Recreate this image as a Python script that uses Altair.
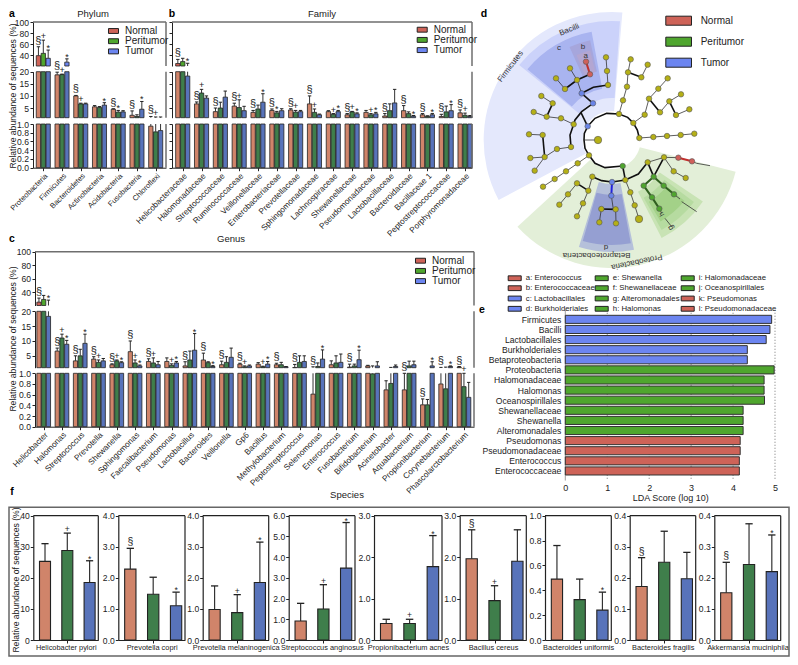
import altair as alt
import pandas as pd

FONT = "Liberation Sans"
GROUPS = ["Normal", "Peritumor", "Tumor"]
BRIGHT = ["#CE6358", "#4FA62E", "#6C85F0"]
DULL = ["#D0846A", "#3F7E4B", "#5873BA"]

# ---------- panel a ----------
A_CATS = ["Proteobacteria", "Firmicutes", "Bacteroidetes", "Actinobacteria", "Acidobacteria", "Fusobacteria", "Chloroflexi"]
A_N = [38.8, 18.7, 10.0, 5.5, 4.5, 2.0, 0.95]
A_NT = [55, 19.8, 10.2, 6.0, 4.7, 3.8, 1.5]
A_P = [43, 18.8, 6.7, 5.2, 3.3, 1.5, 0.82]
A_PT = [67, 19.0, 7.0, 5.6, 4.0, 2.2, 1.3]
A_T = [34, 27, 6.7, 6.2, 3.4, 4.5, 0.85]
A_TT = [49, 33, 7.0, 7.2, 3.9, 7.7, 1.3]
A_MARKS = ["§+*", "§+*", "§+ ", "  *", "§* ", "§ *", "§+ "]

# ---------- panel b ----------
B_CATS = ["Helicobacteraceae", "Halomonadaceae", "Streptococcaceae", "Ruminococcaceae", "Veillonellaceae",
          "Enterobacteriaceae", "Prevotellaceae", "Sphingomonadaceae", "Lachnospiraceae", "Shewanellaceae",
          "Pseudomonadaceae", "Lactobacillaceae", "Bacteroidaceae", "Bacillaceae 1", "Peptostreptococcaceae",
          "Porphyromonadaceae"]
B_N = [24.5, 6.7, 3.5, 5.8, 3.2, 4.0, 4.2, 6.7, 3.5, 2.2, 3.2, 1.7, 3.9, 2.2, 1.5, 3.0]
B_NT = [32, 7.5, 5.0, 7.0, 4.0, 4.6, 4.7, 10.0, 3.9, 2.7, 4.0, 2.7, 6.0, 2.7, 2.4, 4.2]
B_P = [28, 11.2, 5.0, 5.2, 4.6, 3.0, 3.3, 3.2, 2.4, 3.4, 2.2, 3.9, 2.7, 1.5, 3.4, 2.0]
B_PT = [34, 12.7, 7.4, 8.4, 6.2, 3.6, 4.0, 4.6, 2.7, 3.6, 2.7, 6.7, 3.4, 1.8, 5.8, 2.9]
B_T = [18.2, 9.1, 9.5, 3.9, 7.4, 3.9, 3.5, 2.2, 3.5, 2.6, 2.6, 7.1, 1.6, 2.2, 3.9, 1.5]
B_TT = [25, 10, 12, 5.7, 10.9, 4.7, 4.0, 2.5, 4.0, 3.0, 3.2, 12.7, 1.9, 2.7, 6.4, 1.9]
B_MARKS = ["§ *", "§+ ", "§  ", "§+ ", "§ *", "§* ", "§+ ", "§+ ", " +*", "§+*", " +*", "§  ", "§ *", "§ *", "§ *", "§+ "]

# ---------- panel c ----------
C_CATS = ["Helicobacter", "Halomonas", "Streptococcus", "Prevotella", "Shewanella", "Sphingomonas", "Faecalibacterium",
          "Pseudomonas", "Lactobacillus", "Bacteroides", "Veillonella", "Gp6", "Bacillus", "Methylobacterium",
          "Peptostreptococcus", "Selenomonas", "Enterococcus", "Fusobacterium", "Bifidobacterium", "Acinetobacter",
          "Aquabacterium", "Propionibacterium", "Corynebacterium", "Phascolarctobacterium"]
C_N = [25, 6.6, 3.3, 3.9, 2.0, 6.4, 3.1, 3.1, 1.6, 3.6, 2.0, 2.2, 2.2, 2.0, 1.05, 0.61, 2.0, 1.2, 1.6, 0.69, 0.69, 0.41, 0.8, 1.2]
C_NT = [31, 7.6, 5.0, 4.7, 2.3, 10, 4.0, 4.3, 3.0, 5.9, 3.2, 2.5, 2.7, 2.5, 2.1, 1.3, 3.3, 2.2, 1.8, 0.86, 1.0, 0.52, 1.1, 1.4]
C_P = [29, 11, 5.0, 2.8, 3.3, 2.6, 2.6, 1.8, 3.6, 2.7, 2.8, 1.3, 1.3, 2.0, 2.8, 1.4, 2.6, 1.6, 0.99, 0.81, 1.6, 0.41, 0.71, 0.75]
C_PT = [35, 12.3, 7.2, 3.6, 3.6, 3.6, 4.3, 2.3, 6.6, 3.0, 4.7, 1.6, 1.5, 2.8, 5.0, 2.6, 5.0, 2.2, 1.6, 1.1, 3.2, 0.51, 1.2, 1.0]
C_T = [18.3, 8.9, 9.2, 3.3, 2.7, 1.6, 2.0, 2.6, 6.9, 1.4, 4.5, 1.6, 2.2, 1.3, 3.1, 3.9, 2.8, 3.7, 1.6, 1.4, 2.0, 1.6, 1.4, 0.55]
C_TT = [28, 10.2, 12.3, 4.1, 3.0, 1.9, 3.1, 3.1, 12.5, 1.7, 7.6, 1.9, 3.1, 1.4, 5.0, 7.0, 5.6, 6.9, 3.0, 1.9, 3.2, 3.0, 1.6, 0.83]
C_MARKS = ["§ *", "§+*", "§ *", "§+ ", "§+*", "§+*", "§+ ", " +*", "§ *", "§ *", "§  ", "§+ ", " +*", "§  ", "§  ",
           "§ *", "   ", "§ *", "   ", "   ", "§  ", "§ *", "§ *", "§+ "]

# ---------- panel e ----------
E_NAMES = ["Firmicutes", "Bacilli", "Lactobacillales", "Burkholderiales", "Betaproteobacteria", "Proteobacteria",
           "Halomonadaceae", "Halomonas", "Oceanospirillales", "Shewanellaceae", "Shewanella", "Alteromonadales",
           "Pseudomonas", "Pseudomonadaceae", "Enterococcus", "Enterococcaceae"]
E_SCORES = [4.92, 4.88, 4.79, 4.34, 4.34, 4.98, 4.74, 4.74, 4.75, 4.24, 4.24, 4.24, 4.17, 4.17, 4.15, 4.15]
E_CLASS = [2] * 5 + [1] * 7 + [0] * 4
E_KEYS = ["a: Enterococcus", "b: Enterococcaceae", "c: Lactobacillales", "d: Burkholderiales", "e: Shewanella",
          "f: Shewanellaceae", "g: Alteromonadales", "h: Halomonas", "i: Halomonadaceae", "j: Oceanospirillales",
          "k: Pseudomonas", "l: Pseudomonadaceae"]
E_KEY_CLASS = [0, 0, 2, 2, 1, 1, 1, 1, 1, 1, 0, 0]

# ---------- panel f ----------
F_NAMES = ["Helicobacter pylori", "Prevotella copri", "Prevotella melaninogenica", "Streptococcus anginosus",
           "Propionibacterium acnes", "Bacillus cereus", "Bacteroides uniformis", "Bacteroides fragilis",
           "Akkermansia muciniphila"]
F_TOP = [40, 4, 4, 6, 3, 3, 1, 0.4, 0.4]
F_STEP = [10, 1, 1, 1, 1, 1, 0.2, 0.1, 0.1]
F_FMT = [".0f", ".1f", ".1f", ".1f", ".1f", ".1f", ".1f", ".1f", ".1f"]
F_N = [25.3, 2.28, 0.98, 0.92, 0.40, 1.96, 0.49, 0.172, 0.152]
F_NT = [31, 2.95, 1.74, 1.77, 0.50, 2.66, 0.76, 0.265, 0.25]
F_P = [28.8, 1.47, 0.88, 1.5, 0.40, 0.95, 0.325, 0.25, 0.243]
F_PT = [34.4, 2.02, 1.46, 2.67, 0.50, 1.31, 0.49, 0.35, 0.374]
F_T = [18.5, 1.1, 1.85, 3.47, 1.77, 1.9, 0.24, 0.197, 0.22]
F_TT = [25.5, 1.54, 3.15, 5.67, 2.52, 2.66, 0.385, 0.282, 0.338]
F_MARKS = [" +*", "§ *", " +*", " +*", " +*", "§+ ", "  *", "§  ", "§ *"]
F_LEFT = [33.3, 118.3, 202.7, 288.7, 374, 459.7, 545, 629.7, 714.3]
F_RIGHT = [98.3, 185, 268.7, 355, 442, 526.3, 611.3, 695.7, 780.7]

# ---------- panel d (positions, in 3x crop pixels) ----------
TREE_CENTER = (395, 420)
# start angle, end angle (deg clockwise from up), inner r, outer r (px), colour
WEDGES = [
    (242, 364.8, 29, 128, "#E4E8FC"),
    (104.4, 227.4, 29, 128, "#E3EFD8"),
    (309, 364, 42, 119, "#CBD2FA"),
    (310, 349.5, 52, 110, "#A9B4F0"),
    (335.6, 347.8, 70, 102, "#A6A6DC"),
    (337.5, 346.5, 70, 92, "#B3A6D2"),
    (168.5, 197, 44, 112, "#B5C0DA"),
    (169.5, 196, 55, 105, "#959FD2"),
    (124, 153, 58, 110, "#C8E3B4"),
    (127, 151, 66, 103, "#B6DBA0"),
    (130, 149, 72, 95, "#A3D188"),
]
YELLOW = [(228, 235), (270, 205), (291, 240), (255, 267), (378, 172), (381, 213), (384, 255), (184, 288), (218, 310),
          (161, 336), (200, 350), (243, 355), (281, 373), (147, 403), (188, 405), (231, 447), (273, 441), (151, 474),
          (194, 471), (164, 512), (327, 466), (293, 490), (258, 514), (224, 537), (189, 560), (417, 342), (429, 301),
          (441, 260), (452, 178), (503, 194), (444, 217), (484, 232), (563, 235), (535, 266), (507, 296), (603, 283),
          (568, 304), (494, 344), (540, 337), (588, 345), (628, 328), (460, 369), (478, 414), (520, 411), (561, 408),
          (602, 405), (643, 401), (503, 487), (552, 472), (581, 514), (617, 534), (436, 540), (451, 577), (464, 616),
          (364, 627), (407, 628), (358, 667), (408, 670), (337, 530), (291, 550), (325, 572), (264, 583), (309, 610),
          (238, 614), (291, 649)]
YELLOW_BIG = [(354, 420), (477, 657)]
BLUE = [(305, 280), (339, 310), (323, 379), (396, 546), (394, 587)]
GREEN = [(428, 498), (521, 530), (491, 557), (516, 592), (538, 626), (551, 557), (582, 583)]
RED = [(318, 185), (330, 223), (595, 473), (636, 484)]
THIN = [
    [(228, 235), (255, 267)], [(270, 205), (291, 240)], [(305, 280), (291, 240)], [(384, 255), (381, 213), (378, 172)],
    [(281, 373), (243, 355), (200, 350), (161, 336)], [(218, 310), (184, 288)], [(273, 441), (231, 447), (194, 471)],
    [(188, 405), (147, 403)], [(194, 471), (151, 474)], [(194, 471), (164, 512)],
    [(327, 466), (293, 490), (258, 514), (224, 537), (189, 560)], [(312, 420), (354, 420)],
    [(417, 342), (429, 301), (441, 260), (444, 217), (452, 178)], [(484, 232), (503, 194)],
    [(460, 369), (494, 344), (507, 296), (535, 266), (563, 235)], [(540, 337), (568, 304), (603, 283)],
    [(588, 345), (628, 328)], [(478, 414), (520, 411), (561, 408), (602, 405), (643, 401)],
    [(503, 487), (552, 472), (581, 514), (617, 534)], [(552, 472), (595, 473)],
    [(436, 540), (451, 577), (464, 616), (477, 657)], [(394, 587), (400, 628)], [(364, 627), (358, 667)],
    [(407, 628), (408, 670)], [(337, 530), (325, 572), (309, 610), (291, 649)],
    [(291, 550), (264, 583), (238, 614)], [(636, 484), (650, 490)], [(650, 490), (690, 497)],
    [(605, 605), (650, 635)], [(555, 655), (575, 680)], [(582, 583), (600, 597)], [(538, 626), (545, 640)],
]
BOLD = [
    [(323, 379), (345, 355), (380, 340), (417, 342), (443, 352), (460, 369), (472, 390), (478, 414)],
    [(323, 379), (313, 400), (312, 420), (315, 445), (327, 466), (345, 490), (375, 503), (428, 498)],
    [(339, 310), (305, 335), (285, 360), (281, 373), (270, 405), (273, 441)],
    [(323, 379), (303, 338)], [(339, 310), (305, 280)], [(305, 280), (340, 262), (384, 255)],
    [(255, 267), (291, 240), (330, 223)], [(200, 350), (218, 310)], [(188, 405), (194, 471)],
    [(444, 217), (484, 232)], [(507, 296), (540, 337)], [(568, 304), (588, 345)],
    [(337, 530), (365, 542), (396, 546), (436, 540), (475, 522), (503, 487)], [(428, 498), (436, 540)],
    [(325, 572), (291, 550)], [(364, 627), (407, 628)], [(503, 487), (521, 530), (552, 472)],
]
RED_EDGES = [[(318, 185), (330, 223)], [(595, 473), (636, 484)]]
BLUE_EDGES = [[(396, 546), (394, 587)]]
GREEN_EDGES = [[(521, 530), (491, 557), (516, 592), (538, 626)], [(521, 530), (551, 557), (582, 583)]]
TREE_TEXT = [("Firmicutes", 92, 200, -53, 8), ("Bacilli", 268, 90, -22, 8), ("c", 237, 145, 0, 8), ("b", 309, 141, 0, 8),
             ("a", 317, 167, 0, 8), ("Betaproteobacteria", 350, 765, 180, 8), ("d", 378, 740, 180, 8),
             ("Proteobacteria", 470, 785, 168, 8), ("g", 573, 683, 240, 8), ("h", 545, 642, 240, 7)]

# ---------- free text, in page pixels ----------
LETTERS = [("a", 12, 14), ("b", 172, 14), ("c", 12, 239), ("d", 484, 14), ("e", 482, 310), ("f", 12, 492)]
TITLES = [("Phylum", 93, 14, 0, 9.5), ("Family", 322, 14, 0, 9.5), ("Genus", 231, 239, 0, 9.5), ("Species", 347, 495, 0, 9.5),
          ("Relative abundance of sequences (%)", 12.5, 96, 270, 8.6), ("Relative abundance of sequences (%)", 13, 339, 270, 8.6),
          ("Relative abundance of sequences (%)", 15.5, 580, 270, 8.6)]
F_BOX = [(9, 789, 507.3, 656)]

W, H = 782, 649


def X(v):
    return v - 8


def sc(dom, rng, clamp=False):
    return alt.Scale(domain=dom, range=rng, nice=False, zero=False, clamp=clamp)


layers = []
PAGE_X = sc([0, 798], [-8, 790])
PAGE_Y = sc([0, 665], [-8, 657])
SYM_STYLE = {"§": (11, -1), "+": (9, 1), "*": (9, 3)}


def bar_rows(n, nt, p, pt, t, tt, marks, gap):
    rows = []
    for i in range(len(n)):
        for g, (v, top) in enumerate([(n[i], nt[i]), (p[i], pt[i]), (t[i], tt[i])]):
            rows.append(dict(cx=i + (g - 1) * gap, g=g, v=v, t=top, m=marks[i][g]))
    return rows


def rect_layer(rows, xs, ys, hw, colors, base, sw=0.8, axis=None):
    df = pd.DataFrame([dict(x=r["cx"] - hw, x2=r["cx"] + hw, v=r["v"], lo=base, c=colors[r["g"]]) for r in rows])
    return alt.Chart(df).mark_rect(stroke="#222222", strokeWidth=sw).encode(
        x=alt.X("x:Q", scale=xs, axis=None), x2="x2:Q",
        y=alt.Y("v:Q", scale=ys, axis=axis, title=None), y2="lo:Q",
        color=alt.Color("c:N", scale=None))


def err_layers(rows, xs, ys, cap, sw=1.0):
    df = pd.DataFrame(rows)
    return [alt.Chart(df).mark_rule(color="#333333", strokeWidth=sw).encode(
        x=alt.X("cx:Q", scale=xs, axis=None), y=alt.Y("v:Q", scale=ys, axis=None), y2="t:Q")]


def cap_layer(rows, xs, ys, cap, sw=1.0):
    df = pd.DataFrame([dict(x=r["cx"] - cap, x2=r["cx"] + cap, t=r["t"]) for r in rows])
    return alt.Chart(df).mark_rule(color="#222222", strokeWidth=sw).encode(
        x=alt.X("x:Q", scale=xs, axis=None), x2="x2:Q", y=alt.Y("t:Q", scale=ys, axis=None))


def mark_layers(rows, xs, ys, scale_size=1.0):
    out = []
    for s, (fs, dy) in SYM_STYLE.items():
        sub = [r for r in rows if r["m"] == s]
        if sub:
            out.append(alt.Chart(pd.DataFrame(sub)).mark_text(
                font=FONT, fontSize=fs * scale_size, baseline="bottom", dy=dy, color="#222222").encode(
                x=alt.X("cx:Q", scale=xs, axis=None), y=alt.Y("t:Q", scale=ys, axis=None), text="m:N"))
    return out


def frame_rule(xs, ys, x, x2, y, y2, color, sw):
    df = pd.DataFrame([dict(x=x, x2=x2, y=y, y2=y2)])
    enc = dict(x=alt.X("x:Q", scale=xs, axis=None), y=alt.Y("y:Q", scale=ys, axis=None))
    if x != x2:
        enc["x2"] = "x2:Q"
    if y != y2:
        enc["y2"] = "y2:Q"
    return alt.Chart(df).mark_rule(color=color, strokeWidth=sw).encode(**enc)


def broken_panel(cats, n, nt, p, pt, t, tt, marks, left, right, dom, segs, labels=True, xfs=8.2):
    rows = bar_rows(n, nt, p, pt, t, tt, marks, 0.26)
    xs = sc(dom, [X(left), X(right)])
    for k, (lo, hi, ylo, yhi, ticks, fmt) in enumerate(segs):
        ys = sc([lo, hi], [X(ylo), X(yhi)], clamp=True)
        colors = BRIGHT if k == 0 else DULL
        axis = alt.Axis(orient="left", offset=-X(left), values=ticks, format=fmt, labels=labels, grid=False,
                        labelOverlap=False, labelBound=False, labelFlush=False, tickSize=3, domainColor="#222222",
                        tickColor="#222222", labelFontSize=8.6, labelPadding=1.5, labelColor="#222222")
        in_bar = [r for r in rows if r["v"] > lo]
        if in_bar:
            layers.append(rect_layer(in_bar, xs, ys, 0.115, colors, lo, axis=axis))
        in_err = [r for r in rows if r["t"] > lo and r["v"] < hi]
        if in_err:
            layers.extend(err_layers(in_err, xs, ys, 0.1))
        in_cap = [r for r in rows if lo < r["t"] <= hi]
        if in_cap:
            layers.append(cap_layer(in_cap, xs, ys, 0.09))
            layers.extend(mark_layers(in_cap, xs, ys))
        layers.append(frame_rule(xs, ys, dom[1], dom[1], lo, hi, "#6e6e6e", 1.5))
        if k == 0:
            layers.append(frame_rule(xs, ys, dom[0], dom[1], hi, hi, "#6e6e6e", 1.5))
        if k == len(segs) - 1:
            names = "[" + ",".join("'" + c + "'" for c in cats) + "]"
            xaxis = alt.Axis(orient="bottom", offset=X(ylo) - H, values=list(range(len(cats))), labelExpr=names + "[datum.value]",
                             labelAngle=-45, labelAlign="right", labelBaseline="top", labelOverlap=False, labelBound=False,
                             labelFlush=False, grid=False, tickSize=3, title=None, labelFontSize=xfs, labelPadding=1,
                             domainColor="#222222", tickColor="#222222", labelColor="#222222")
            df = pd.DataFrame({"i": list(range(len(cats)))})
            layers.append(alt.Chart(df).mark_point(size=0).encode(
                x=alt.X("i:Q", scale=xs, axis=xaxis), y=alt.Y("i:Q", scale=ys, axis=None)))


def legend_layer(labels, colors, lx, ly, fs, size, path, off, rowpad, **kw):
    df = pd.DataFrame({"g": labels})
    return alt.Chart(df).mark_point(filled=True, size=0, opacity=1).encode(
        x=alt.value(0), y=alt.value(0),
        color=alt.Color("g:N", scale=alt.Scale(domain=labels, range=colors),
                        legend=alt.Legend(orient="none", legendX=X(lx), legendY=X(ly), title=None, padding=0,
                                          symbolType=path, symbolSize=size, symbolStrokeColor="#222222",
                                          symbolStrokeWidth=1, labelFont=FONT, labelFontSize=fs, labelOffset=off,
                                          labelColor="#222222", rowPadding=rowpad, **kw)))


TICKS1 = [100, 80, 60, 40]
TICKS2 = [20, 15, 10, 5]
TICKS3 = [1.0, 0.8, 0.6, 0.4, 0.2, 0.0]
SEG_TOP = [(20, 100, 66, 22, TICKS1, ".0f"), (1, 20, 117.7, 71.7, TICKS2, ".0f"), (0, 1, 167.7, 124, TICKS3, ".1f")]
SEG_C = [(20, 100, 305.5, 251.7, TICKS1, ".0f"), (1, 20, 367.7, 311.3, TICKS2, ".0f"), (0, 1, 426.7, 373.3, TICKS3, ".1f")]

broken_panel(A_CATS, A_N, A_NT, A_P, A_PT, A_T, A_TT, A_MARKS, 33, 166, [-0.55, 6.55], SEG_TOP, xfs=7.5)
broken_panel(B_CATS, B_N, B_NT, B_P, B_PT, B_T, B_TT, B_MARKS, 172, 472, [-0.57, 15.37], SEG_TOP, labels=False)
broken_panel(C_CATS, C_N, C_NT, C_P, C_PT, C_T, C_TT, C_MARKS, 35, 474, [-0.476, 23.55], SEG_C)

PATH_SMALL = "M-1.43,-0.7H1.43V0.7H-1.43Z"
layers.append(legend_layer(GROUPS, BRIGHT, 108.5, 26, 10, 49, PATH_SMALL, 6.5, 0.2))
layers.append(legend_layer(GROUPS, BRIGHT, 417.2, 24.7, 10, 49, PATH_SMALL, 6.5, 0.2))
layers.append(legend_layer(GROUPS, BRIGHT, 415.5, 255.7, 10, 49, PATH_SMALL, 6.5, 0.2))
layers.append(legend_layer(GROUPS, BRIGHT, 673.65, 15.7, 10, 49, "M-3.67,-1.29H3.67V1.29H-3.67Z", 17, 7))
layers.append(legend_layer(E_KEYS, [BRIGHT[c] for c in E_KEY_CLASS], 510.8, 274, 7.8, 36, "M-2.17,-0.8H2.17V0.8H-2.17Z", 7.2, 0.3,
                           columns=3, columnPadding=-2, gridAlign="each"))

# ---------- panel d ----------
TX = sc([0, 954], [X(480), X(798)])
TY = sc([0, 810], [X(0), X(270)])
wdf = pd.DataFrame(WEDGES, columns=["a0", "a1", "r0", "r1", "c"])
wdf["x"] = TREE_CENTER[0]
wdf["y"] = TREE_CENTER[1]
layers.append(alt.Chart(wdf).mark_arc().encode(
    x=alt.X("x:Q", scale=TX, axis=None), y=alt.Y("y:Q", scale=TY, axis=None),
    theta=alt.Theta("a0:Q", scale=alt.Scale(domain=[0, 360], range=[0, 6.28318]), stack=None), theta2="a1:Q",
    radius=alt.Radius("r1:Q", scale=alt.Scale(type="linear", domain=[0, 128], range=[0, 128], zero=True)), radius2="r0:Q",
    color=alt.Color("c:N", scale=None)))


def edge_layer(polys, color, sw):
    rows = []
    for pid, poly in enumerate(polys):
        for j, (x, y) in enumerate(poly):
            rows.append(dict(p=pid, j=j, x=x, y=y))
    return alt.Chart(pd.DataFrame(rows)).mark_line(color=color, strokeWidth=sw).encode(
        x=alt.X("x:Q", scale=TX, axis=None), y=alt.Y("y:Q", scale=TY, axis=None),
        detail="p:N", order="j:Q")


def node_layer(pts, color, size):
    df = pd.DataFrame(pts, columns=["x", "y"])
    return alt.Chart(df).mark_point(filled=True, size=size, color=color, stroke="#555555", strokeWidth=0.6, opacity=1).encode(
        x=alt.X("x:Q", scale=TX, axis=None), y=alt.Y("y:Q", scale=TY, axis=None))


layers.append(edge_layer(THIN, "#333333", 0.8))
layers.append(edge_layer(BOLD, "#111111", 1.6))
layers.append(edge_layer(RED_EDGES, "#C0302E", 2.0))
layers.append(edge_layer(BLUE_EDGES, "#2222DD", 2.0))
layers.append(edge_layer(GREEN_EDGES, "#2F5F1F", 2.0))
layers.append(node_layer(YELLOW, "#B5B016", 30))
layers.append(node_layer(YELLOW_BIG, "#B5B016", 55))
layers.append(node_layer(BLUE, "#6A84E8", 30))
layers.append(node_layer(GREEN, "#4FA52E", 30))
layers.append(node_layer(RED, "#D0605A", 30))
tdf = pd.DataFrame(TREE_TEXT, columns=["t", "x", "y", "a", "s"])
layers.append(alt.Chart(tdf).mark_text(font=FONT, color="#333333").encode(
    x=alt.X("x:Q", scale=TX, axis=None), y=alt.Y("y:Q", scale=TY, axis=None), text="t:N",
    angle=alt.Angle("a:Q", scale=None), size=alt.Size("s:Q", scale=None)))

# ---------- panel e ----------
EX = sc([0, 5], [X(565.3), X(775)])
EY = sc([-0.5, 15.5], [X(314.3), X(476)])
grid = pd.DataFrame({"x": [1, 2, 3, 4, 5], "y": [-0.95] * 5, "y2": [15.95] * 5})
layers.append(alt.Chart(grid).mark_rule(color="#555555", strokeWidth=0.8, strokeDash=[1, 2]).encode(
    x=alt.X("x:Q", scale=EX, axis=None), y=alt.Y("y:Q", scale=EY, axis=None), y2="y2:Q"))
layers.append(frame_rule(EX, EY, 0, 0, -0.95, 15.95, "#888888", 0.8))
edf = pd.DataFrame(dict(i=list(range(16)), lo=[i - 0.4 for i in range(16)], hi=[i + 0.4 for i in range(16)],
                        s=E_SCORES, z=[0] * 16, c=[BRIGHT[c] for c in E_CLASS]))
e_names = "[" + ",".join("'" + c + "'" for c in E_NAMES) + "]"
layers.append(alt.Chart(edf).mark_rect(stroke="#333333", strokeWidth=1).encode(
    x=alt.X("z:Q", scale=EX,
            axis=alt.Axis(orient="bottom", offset=X(481) - H, values=[0, 1, 2, 3, 4, 5], format=".0f", ticks=False, domain=False,
                          grid=False, title="LDA Score (log 10)", labelFontSize=9, titleFontSize=9, titleFontWeight="normal",
                          labelPadding=2, titlePadding=1, labelColor="#222222", titleColor="#222222", labelFlush=False, labelBound=False)),
    x2="s:Q",
    y=alt.Y("lo:Q", scale=EY,
            axis=alt.Axis(orient="left", offset=-X(565.3), values=list(range(16)), labelExpr=e_names + "[datum.value]",
                          ticks=False, domain=False, grid=False, title=None, labelFontSize=8.6, labelPadding=4.5, labelOverlap=False,
                          labelBound=False, labelFlush=False, labelColor="#222222")),
    y2="hi:Q", color=alt.Color("c:N", scale=None)))

# ---------- panel f ----------
F_BOTTOM = 640
for i, name in enumerate(F_NAMES):
    left, right = F_LEFT[i], F_RIGHT[i]
    xs = sc([-0.525, 2.39], [X(left), X(right)])
    ys = sc([0, F_TOP[i]], [X(F_BOTTOM), X(515.7)])
    rows = [dict(cx=g, g=g, v=v, t=tv, m=F_MARKS[i][g])
            for g, (v, tv) in enumerate([(F_N[i], F_NT[i]), (F_P[i], F_PT[i]), (F_T[i], F_TT[i])])]
    nticks = int(round(F_TOP[i] / F_STEP[i]))
    ticks = [round(k * F_STEP[i], 2) for k in range(nticks + 1)]
    yaxis = alt.Axis(orient="left", offset=-X(left), values=ticks, format=F_FMT[i], grid=False, tickSize=3, labelFontSize=8.6,
                     labelPadding=1, labelOverlap=False, labelBound=False, labelFlush=False, domainColor="#222222",
                     tickColor="#222222", labelColor="#222222", domainWidth=1.2)
    layers.extend(err_layers(rows, xs, ys, 0.16, 1.2))
    layers.append(cap_layer(rows, xs, ys, 0.16, 1.3))
    layers.append(rect_layer(rows, xs, ys, 0.247, DULL, 0, sw=1.1, axis=yaxis))
    layers.extend(mark_layers(rows, xs, ys, 0.95))
    layers.append(frame_rule(xs, ys, -0.525, 2.39, F_TOP[i], F_TOP[i], "#222222", 1.2))
    layers.append(frame_rule(xs, ys, 2.39, 2.39, 0, F_TOP[i], "#222222", 1.2))
    xaxis = alt.Axis(orient="bottom", offset=X(F_BOTTOM) - H, values=[1], labels=False, tickSize=3, grid=False, title=name,
                     titleFontSize=7.4, titleFontWeight="normal", titlePadding=0, domainColor="#222222", tickColor="#222222",
                     titleColor="#222222", domainWidth=1.2)
    layers.append(alt.Chart(pd.DataFrame({"i": [1]})).mark_point(size=0).encode(
        x=alt.X("i:Q", scale=xs, axis=xaxis), y=alt.Y("i:Q", scale=ys, axis=None)))

# ---------- free text ----------
tt = pd.DataFrame(TITLES, columns=["t", "x", "y", "a", "s"])
layers.append(alt.Chart(tt).mark_text(font=FONT, color="#222222").encode(
    x=alt.X("x:Q", scale=PAGE_X, axis=None), y=alt.Y("y:Q", scale=PAGE_Y, axis=None), text="t:N",
    angle=alt.Angle("a:Q", scale=None), size=alt.Size("s:Q", scale=None)))
ll = pd.DataFrame(LETTERS, columns=["t", "x", "y"])
layers.append(alt.Chart(ll).mark_text(font=FONT, fontSize=10.5, fontWeight="bold", color="#000000").encode(
    x=alt.X("x:Q", scale=PAGE_X, axis=None), y=alt.Y("y:Q", scale=PAGE_Y, axis=None), text="t:N"))
bb = pd.DataFrame(F_BOX, columns=["x", "x2", "y", "y2"])
layers.append(alt.Chart(bb).mark_rect(fillOpacity=0, stroke="#666666", strokeWidth=1.5).encode(
    x=alt.X("x:Q", scale=PAGE_X, axis=None), x2="x2:Q", y=alt.Y("y:Q", scale=PAGE_Y, axis=None), y2="y2:Q"))

chart = alt.layer(*layers).properties(
    width=W, height=H, padding=0, autosize=alt.AutoSizeParams(type="none")
).resolve_scale(
    x="independent", y="independent", color="independent", theta="independent", radius="independent"
).configure_view(stroke=None).configure_axis(
    labelFont=FONT, titleFont=FONT
).configure_legend(labelFont=FONT)

chart.save("out.html", embed_options={"renderer": "svg", "actions": False})
